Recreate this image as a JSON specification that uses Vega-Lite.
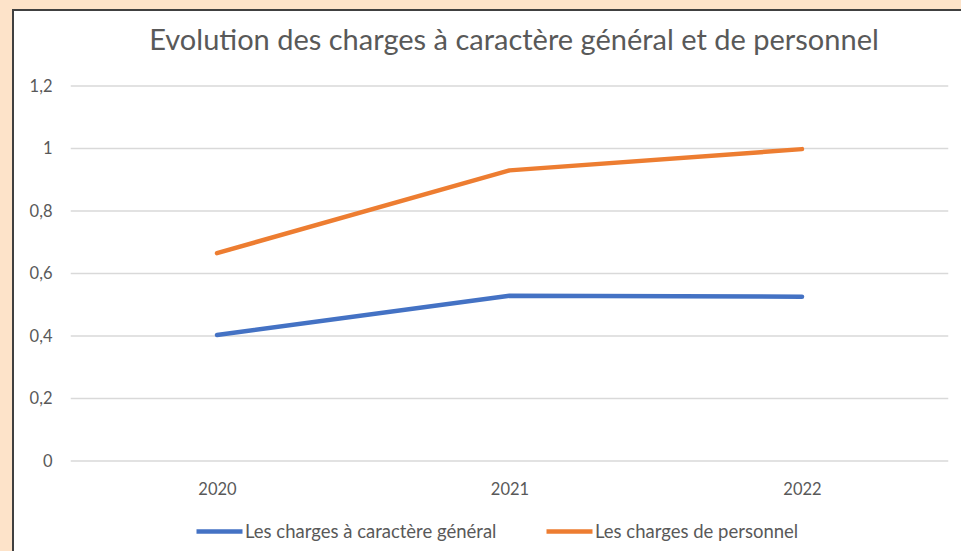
{
  "$schema": "https://vega.github.io/schema/vega-lite/v6.json",
  "autosize": {"type": "none"},
  "width": 950,
  "height": 543,
  "padding": {"left": 13, "top": 10, "right": -2, "bottom": -2},
  "background": "#FDE3C9",
  "config": {
    "view": {"fill": "white", "stroke": "#404040", "strokeWidth": 2},
    "font": "Lato",
    "axisY": {"offset": -58, "labelPadding": 19, "domain": false, "ticks": false, "grid": false, "labelFontSize": 16.5, "labelColor": "#595959", "labelFont": "Lato"},
    "axisX": {"offset": -92, "labelPadding": 20, "domain": false, "ticks": false, "grid": false, "labelFontSize": 16.5, "labelColor": "#595959", "labelFont": "Lato"}
  },
  "title": {
    "text": "Evolution des charges à caractère général et de personnel",
    "fontSize": 29,
    "fontWeight": "normal",
    "color": "#595959",
    "font": "Lato",
    "anchor": "middle",
    "baseline": "alphabetic",
    "offset": -69,
    "dx": 26
  },
  "datasets": {
    "series": [
      {"series": "Les charges à caractère général", "year": 2020, "value": 0.403},
      {"series": "Les charges à caractère général", "year": 2021, "value": 0.529},
      {"series": "Les charges à caractère général", "year": 2022, "value": 0.526},
      {"series": "Les charges de personnel", "year": 2020, "value": 0.665},
      {"series": "Les charges de personnel", "year": 2021, "value": 0.93},
      {"series": "Les charges de personnel", "year": 2022, "value": 0.998}
    ],
    "grid": [{"v": 0}, {"v": 0.2}, {"v": 0.4}, {"v": 0.6}, {"v": 0.8}, {"v": 1}, {"v": 1.2}]
  },
  "layer": [
    {
      "data": {"name": "grid"},
      "mark": {"type": "rule", "color": "#d9d9d9", "strokeWidth": 1.5},
      "encoding": {
        "y": {"field": "v", "type": "quantitative", "title": null,
              "scale": {"domain": [-0.2944, 1.4432], "nice": false, "zero": false},
              "axis": {"values": [0, 0.2, 0.4, 0.6, 0.8, 1, 1.2], "labelExpr": "replace(format(datum.value, '.1~f'), '.', ',')"}},
        "x": {"datum": 2019.5, "type": "quantitative", "title": null,
              "scale": {"domain": [2019.3026, 2022.5504], "nice": false, "zero": false},
              "axis": {"values": [2020, 2021, 2022], "format": "d"}},
        "x2": {"datum": 2022.5}
      }
    },
    {
      "data": {"name": "series"},
      "mark": {"type": "line", "strokeWidth": 4.5, "strokeCap": "round", "strokeJoin": "round"},
      "encoding": {
        "x": {"field": "year", "type": "quantitative", "title": null,
              "axis": {"values": [2020, 2021, 2022], "format": "d"}},
        "y": {"field": "value", "type": "quantitative", "title": null,
              "axis": {"values": [0, 0.2, 0.4, 0.6, 0.8, 1, 1.2], "labelExpr": "replace(format(datum.value, '.1~f'), '.', ',')"}},
        "color": {
          "field": "series", "type": "nominal",
          "scale": {"domain": ["Les charges à caractère général", "Les charges de personnel"], "range": ["#4472C4", "#ED7D31"]},
          "legend": {
            "title": null, "orient": "none", "direction": "horizontal",
            "legendX": 181, "legendY": 496,
            "symbolType": "stroke", "symbolSize": 2116, "symbolStrokeWidth": 4.5,
            "labelOffset": 0, "columnPadding": 40, "labelLimit": 400,
            "labelFontSize": 18.5, "labelColor": "#595959", "labelFont": "Lato", "padding": 0
          }
        }
      }
    }
  ]
}
